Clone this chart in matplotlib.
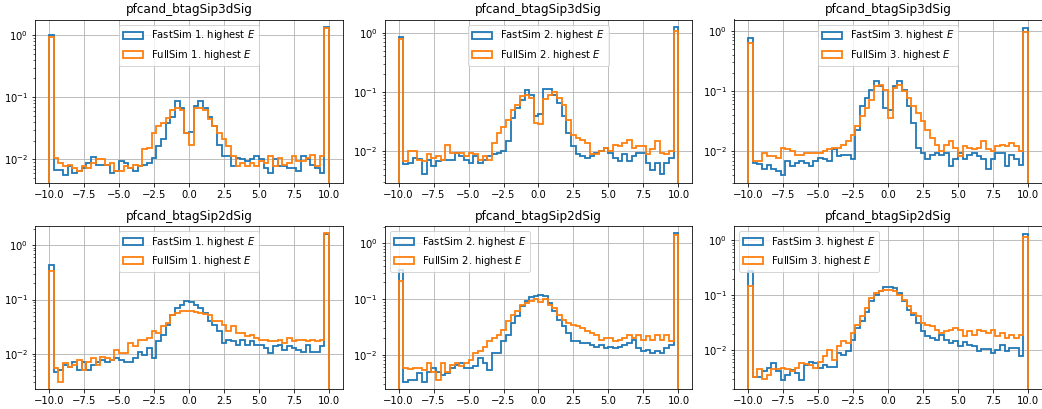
import numpy as np
import matplotlib
matplotlib.use("Agg")
import matplotlib.pyplot as plt

# 60 bins from -10 to 10 (values clipped into the outer bins)
bin_edges = np.linspace(-10, 10, 61)

titles = ["pfcand_btagSip3dSig", "pfcand_btagSip2dSig"]

# Sip3dSig, 1st / 2nd / 3rd highest E
fast_sip3d_1 = [1.0, .0069, .0069, .0056, .0078, .0061, .0065, .0074, .0089, .011,
                .0083, .0083, .0083, .006, .0065, .0094, .0089, .0074, .0065, .0078,
                .0083, .0089, .0106, .0163, .021, .039, .049, .086, .067, .027,
                .028, .071, .086, .067, .049, .034, .0174, .0113, .0113, .0078,
                .0106, .010, .0094, .010, .0113, .010, .0074, .0061, .010, .0078,
                .0078, .0074, .0074, .0065, .0113, .010, .0083, .0074, .006, 1.36]
full_sip3d_1 = [.94, .0106, .0089, .0078, .0083, .0074, .0065, .0078, .0074, .0089,
                .010, .010, .0083, .0089, .0065, .0065, .0078, .0074, .0083, .0078,
                .0145, .0154, .027, .034, .039, .046, .063, .067, .063, .027,
                .0168, .067, .067, .063, .044, .034, .027, .021, .0163, .0113,
                .0078, .0089, .0078, .0089, .0078, .0094, .0089, .0113, .0078, .0106,
                .0083, .0089, .0113, .0094, .0094, .0106, .012, .0078, .0113, 1.28]
fast_sip3d_2 = [.86, .006, .0064, .0077, .0074, .0041, .0072, .0056, .0068, .0072,
                .0072, .0072, .0094, .0082, .0072, .0064, .0082, .0064, .0072, .0082,
                .0088, .0094, .01, .0147, .0363, .0535, .074, .107, .09, .039,
                .042, .11, .114, .09, .066, .039, .0203, .0121, .0088, .0082,
                .0077, .0082, .0094, .01, .0114, .0094, .0077, .0068, .0088, .0068,
                .0082, .0094, .0094, .0064, .0049, .0064, .0042, .0064, .0077, 1.23]
full_sip3d_2 = [.77, .0068, .01, .01, .0072, .0068, .0088, .0077, .0082, .0072,
                .0129, .0094, .0094, .0094, .0082, .0094, .0088, .0072, .0082, .0072,
                .0138, .0203, .0258, .0332, .049, .061, .084, .09, .08, .030,
                .029, .077, .09, .1, .08, .061, .0332, .019, .0168, .0157,
                .0138, .0088, .0088, .01, .0114, .01, .0129, .0121, .0138, .0153,
                .0114, .0124, .0121, .0088, .0107, .0147, .0094, .0088, .01, 1.08]
fast_sip3d_3 = [.76, .0064, .0062, .005, .006, .005, .0047, .0041, .0068, .0056,
                .0064, .0068, .0064, .0056, .0068, .0078, .0073, .0068, .0107, .0083,
                .0088, .0088, .0073, .0229, .0557, .0766, .105, .145, .12, .052,
                .049, .12, .15, .105, .0557, .0295, .0114, .0094, .0073, .0088,
                .0094, .0088, .0094, .0056, .0073, .0094, .0073, .0088, .0094, .0083,
                .0073, .005, .0073, .0094, .0094, .0056, .0088, .0073, .006, 1.1]
full_sip3d_3 = [.64, .0068, .0068, .0094, .0083, .0083, .0078, .0114, .0107, .01,
                .0088, .0088, .0094, .0092, .0094, .0094, .01, .0107, .0114, .0114,
                .0129, .0146, .0189, .026, .038, .052, .072, .12, .127, .105,
                .0357, .112, .127, .1, .0766, .0557, .0432, .0314, .0229, .0166,
                .0129, .01, .0129, .0146, .0114, .0083, .012, .0114, .0107, .0114,
                .0146, .0107, .01, .012, .0129, .012, .0137, .0124, .01, .97]

# Sip2dSig, 1st / 2nd / 3rd highest E
fast_sip2d_1 = [.44, .0047, .0051, .0063, .0058, .0072, .0051, .0072, .0051, .0063,
                .0072, .0077, .0072, .0077, .0083, .0077, .0072, .007, .0083, .011,
                .0096, .0127, .0083, .0169, .0224, .0345, .0524, .07, .08, .092,
                .09, .08, .07, .056, .0395, .0345, .0258, .0157, .0181, .0169,
                .0147, .0181, .0147, .0169, .0147, .0147, .0127, .0103, .0137, .0147,
                .0119, .0137, .0127, .0119, .011, .0147, .011, .011, .0137, 1.6]
full_sip2d_1 = [.34, .0054, .0031, .0067, .0058, .0063, .0077, .0051, .0072, .0083,
                .0063, .0089, .0083, .0077, .0119, .0103, .0103, .0157, .0137, .0181,
                .0181, .0195, .0258, .024, .0319, .0368, .0524, .056, .0605, .062,
                .0605, .0587, .056, .054, .0524, .0395, .0395, .0345, .0258, .0319,
                .024, .024, .021, .0224, .0195, .0181, .0181, .0169, .0169, .0181,
                .0157, .0195, .0169, .0181, .0181, .0169, .0181, .0169, .0181, 1.69]
fast_sip2d_2 = [.33, .0033, .0035, .0035, .0047, .0033, .005, .0058, .005, .0044,
                .0047, .0058, .0066, .0071, .0058, .0058, .0062, .0087, .0071, .0054,
                .0107, .0107, .0174, .0229, .0372, .049, .074, .091, .108, .116,
                .118, .113, .085, .062, .0426, .0324, .0245, .0174, .0174, .0162,
                .0162, .0151, .0141, .0151, .0132, .0141, .0132, .0136, .0151, .0162,
                .0186, .0132, .0115, .0123, .0107, .0118, .0107, .0132, .0151, 1.56]
full_sip2d_2 = [.21, .0058, .0056, .0058, .0058, .0054, .0071, .005, .0035, .0071,
                .005, .0066, .0071, .0062, .0071, .0081, .0107, .0115, .0141, .0174,
                .02, .0229, .0282, .0398, .0525, .0604, .079, .085, .094, .1,
                .089, .1, .079, .069, .0525, .0426, .0372, .0347, .0324, .0302,
                .0263, .0245, .0229, .0186, .02, .02, .0174, .0186, .02, .0229,
                .02, .0229, .0186, .0214, .0186, .0229, .0186, .0229, .0174, 1.41]
fast_sip2d_3 = [.27, .0033, .0033, .0041, .0047, .0058, .0041, .0029, .0035, .0044,
                .0038, .0029, .0054, .0062, .0058, .0047, .0054, .005, .005, .0088,
                .0082, .0095, .0154, .0252, .0333, .05, .077, .102, .12, .138,
                .142, .134, .109, .077, .054, .044, .031, .0219, .0178, .0166,
                .0154, .019, .0154, .0134, .0144, .0117, .014, .0125, .0117, .0097,
                .0106, .0106, .0088, .0101, .0125, .0095, .0109, .0109, .0077, 1.3]
full_sip2d_3 = [.145, .0033, .0046, .003, .0035, .0046, .0046, .0047, .0046, .0041,
                .0047, .0058, .0056, .0054, .0047, .0062, .0077, .0101, .0067, .0117,
                .0144, .0134, .0204, .029, .041, .058, .089, .109, .117, .126,
                .122, .117, .102, .083, .0625, .047, .041, .031, .029, .027,
                .0235, .0204, .0219, .0235, .0252, .0235, .0178, .0219, .019, .0235,
                .0219, .0204, .0235, .0178, .0204, .0166, .019, .0166, .019, 1.13]

fast = [[fast_sip3d_1, fast_sip3d_2, fast_sip3d_3],
        [fast_sip2d_1, fast_sip2d_2, fast_sip2d_3]]
full = [[full_sip3d_1, full_sip3d_2, full_sip3d_3],
        [full_sip2d_1, full_sip2d_2, full_sip2d_3]]

ylims = [[(0.00424, 1.77), (0.00294, 1.67), (0.0030, 1.55)],
         [(0.00223, 2.24), (0.00241, 2.05), (0.00194, 1.8)]]
legend_locs = [["upper center", "upper center", "upper center"],
               ["upper center", "upper left", "upper left"]]

centers = 0.5 * (bin_edges[:-1] + bin_edges[1:])

fig, axes = plt.subplots(2, 3, figsize=(1042 / 72, 409 / 72), dpi=72)
fig.subplots_adjust(left=35 / 1042, right=1.0, top=1 - 19.5 / 409,
                    bottom=1 - 389.3 / 409, wspace=0.135, hspace=0.266)

for r in range(2):
    for c in range(3):
        ax = axes[r, c]
        ax.hist(centers, bins=bin_edges, weights=fast[r][c], histtype="step",
                linewidth=1.8, color="C0", label=f"FastSim {c + 1}. highest $E$")
        ax.hist(centers, bins=bin_edges, weights=full[r][c], histtype="step",
                linewidth=1.8, color="C1", label=f"FullSim {c + 1}. highest $E$")
        ax.set_yscale("log")
        ax.set_ylim(*ylims[r][c])
        ax.set_xlim(-11, 11)
        ax.set_xticks([-10, -7.5, -5, -2.5, 0, 2.5, 5, 7.5, 10])
        ax.set_title(titles[r], fontsize=12)
        ax.grid(True)
        ax.legend(loc=legend_locs[r][c], fontsize=10)

fig.savefig("out.png", dpi=72)
